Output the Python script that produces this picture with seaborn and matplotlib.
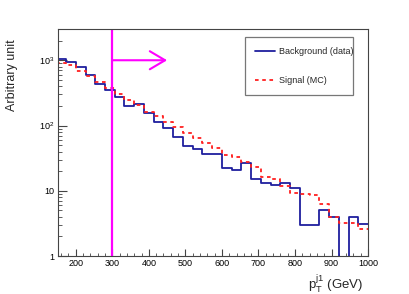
import numpy as np
import pandas as pd
import matplotlib
matplotlib.use('Agg')
import matplotlib.pyplot as plt
import matplotlib.ticker as mticker
import seaborn as sns

# Bin edges in GeV (bins of 80/3 GeV ending at 1000)
bin_edges = list(1000 - 80 / 3 * np.arange(32, -1, -1))
bin_centers = 0.5 * (np.array(bin_edges[:-1]) + np.array(bin_edges[1:]))

# Background (data) contents
background = [1040, 925, 775, 591, 435, 345, 275, 198, 210, 155,
              113, 93, 67, 48, 43, 36.5, 36.5, 22, 21, 26.3,
              15.2, 13.4, 12.2, 13.2, 11.1, 3.0, 3.0, 5.05, 3.9, 0,
              4.0, 3.05]
# Signal (MC) contents
signal = [900, 841, 681, 577, 457, 378, 302, 245, 207, 163,
          139, 115, 95, 78, 64, 54, 46, 35, 32.4, 27.8,
          23, 16, 15, 12, 9.3, 9.0, 8.5, 6.2, 4.0, 3.2,
          3.2, 2.6]

cut_value = 300
arrow_end = 450
arrow_level = 1000

df_bkg = pd.DataFrame({'pt': bin_centers, 'w': np.clip(background, 1e-3, None)})
df_sig = pd.DataFrame({'pt': bin_centers, 'w': signal})

sns.set_style('ticks')
plt.rcParams['font.family'] = ['Liberation Sans', 'DejaVu Sans']
plt.rcParams['mathtext.fontset'] = 'custom'
plt.rcParams['mathtext.rm'] = 'Liberation Sans'
plt.rcParams['mathtext.it'] = 'Liberation Sans:italic'
plt.rcParams['mathtext.bf'] = 'Liberation Sans:bold'

fig = plt.figure(figsize=(4.09, 2.94), dpi=100)
ax = fig.add_axes([0.1406, 0.129, 0.7594, 0.772])

sns.histplot(data=df_bkg, x='pt', weights='w', bins=bin_edges,
             element='step', fill=False, color='#1f1f9e', linewidth=1.3,
             label='Background (data)', ax=ax)
sns.histplot(data=df_sig, x='pt', weights='w', bins=bin_edges,
             element='step', fill=False, color='#ff2020', linewidth=1.3,
             linestyle=(0, (2, 2)), label='Signal (MC)', ax=ax)

ax.set_yscale('log')
ax.set_xlim(150, 1000)
ax.set_ylim(1, 3000)

# cut line and arrow
ax.axvline(cut_value, color='#ff00ff', lw=1.6)
ax.annotate('', xy=(arrow_end, arrow_level), xytext=(cut_value, arrow_level),
            arrowprops=dict(arrowstyle='->,head_length=1.1,head_width=0.65',
                            color='#ff00ff', lw=1.5, shrinkA=0, shrinkB=0))

# axes style
for s in ax.spines.values():
    s.set_color('#444444')
    s.set_linewidth(0.8)
ax.xaxis.set_major_locator(mticker.MultipleLocator(100))
ax.xaxis.set_minor_locator(mticker.MultipleLocator(20))
ax.yaxis.set_major_locator(mticker.LogLocator(base=10))
ax.yaxis.set_minor_locator(mticker.LogLocator(base=10, subs=np.arange(2, 10)))
ax.yaxis.set_minor_formatter(mticker.NullFormatter())

def ylab(v, pos):
    if v == 1:
        return '1'
    if v == 10:
        return '10'
    return r'$10^{%d}$' % int(round(np.log10(v)))

ax.yaxis.set_major_formatter(mticker.FuncFormatter(ylab))
ax.tick_params(which='both', direction='in', colors='#444444', labelcolor='black',
               labelsize=6.5, top=False, right=False)
ax.tick_params(axis='y', which='major', length=6.5, pad=2)
ax.tick_params(axis='y', which='minor', length=3.2)
ax.tick_params(axis='x', which='major', length=5, pad=2)
ax.tick_params(axis='x', which='minor', length=2.5)

ax.set_ylabel('Arbitrary unit', fontsize=9, loc='top')
ax.yaxis.set_label_coords(-0.127, 0.955)
ax.set_xlabel(r'$\mathrm{p_{T}^{j1}}$ (GeV)', fontsize=9.5, loc='right')
ax.xaxis.set_label_coords(0.985, -0.075)

leg = ax.legend(loc='upper left', bbox_to_anchor=(0.604, 0.70, 0.346, 0.265),
                mode='expand', fontsize=6.5, frameon=True, fancybox=False,
                borderpad=1.1, labelspacing=2.2, handlelength=2.2,
                handletextpad=0.45, borderaxespad=0)
leg.get_frame().set_edgecolor('#555555')
leg.get_frame().set_linewidth(0.9)

fig.savefig('out.png', dpi=100)
